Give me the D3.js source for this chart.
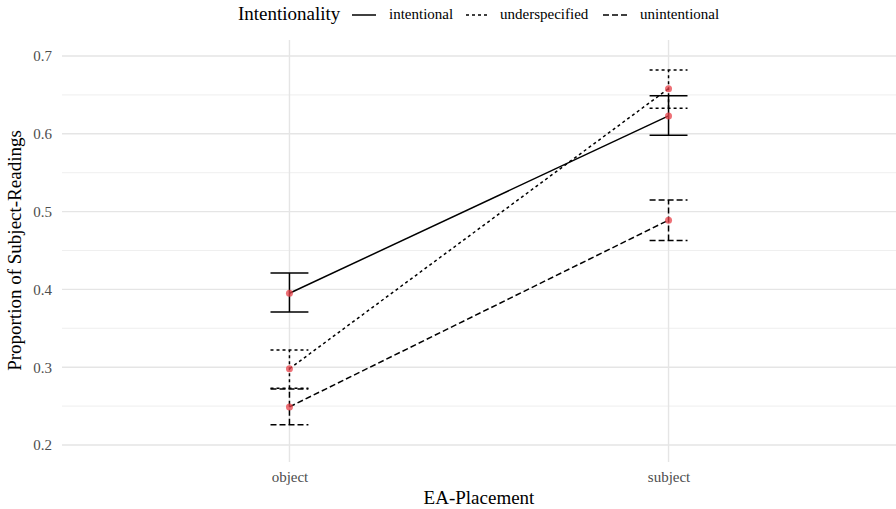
<!DOCTYPE html>
<html><head><meta charset="utf-8">
<script src="https://cdn.jsdelivr.net/npm/d3@7"></script>
<style>body{margin:0;background:#fff}svg{display:block}</style>
</head><body>
<script>
const categories = ["object", "subject"];
const seriesNames = ["intentional", "underspecified", "unintentional"];
const means = {
  intentional:   [0.395, 0.623],
  underspecified:[0.298, 0.658],
  unintentional: [0.249, 0.489]
};
const lower = {
  intentional:   [0.371, 0.598],
  underspecified:[0.273, 0.633],
  unintentional: [0.226, 0.463]
};
const upper = {
  intentional:   [0.421, 0.649],
  underspecified:[0.322, 0.682],
  unintentional: [0.272, 0.515]
};
const yTicks = [0.2, 0.3, 0.4, 0.5, 0.6, 0.7];
const yMinor = [0.25, 0.35, 0.45, 0.55, 0.65];
const dashes = {intentional: null, underspecified: "3,3", unintentional: "6,3"};

const W = 896, H = 509;
const m = {left: 62, right: 896, top: 40, bottom: 462};
const svg = d3.select("body").append("svg").attr("width", W).attr("height", H);
const font = "Liberation Serif, Times New Roman, serif";

const x = d3.scalePoint().domain(categories).range([m.left, m.right]).padding(0.6);
const y = d3.scaleLinear().domain([0.2, 0.7]).range([445, 56]);

// gridlines
const g = svg.append("g");
g.selectAll(".minor").data(yMinor).enter().append("line")
  .attr("x1", m.left).attr("x2", m.right).attr("y1", d => y(d)).attr("y2", d => y(d))
  .attr("stroke", "#ebebeb").attr("stroke-width", 0.8);
g.selectAll(".major").data(yTicks).enter().append("line")
  .attr("x1", m.left).attr("x2", m.right).attr("y1", d => y(d)).attr("y2", d => y(d))
  .attr("stroke", "#e5e5e5").attr("stroke-width", 1.4);
g.selectAll(".vmajor").data(categories).enter().append("line")
  .attr("x1", d => x(d)).attr("x2", d => x(d)).attr("y1", m.top).attr("y2", m.bottom)
  .attr("stroke", "#e5e5e5").attr("stroke-width", 1.4);

// axes (text only)
const yAxis = d3.axisLeft(y).tickValues(yTicks).tickSize(0).tickPadding(10).tickFormat(d3.format(".1f"));
const ya = svg.append("g").attr("transform", `translate(${m.left},0)`).call(yAxis);
ya.select(".domain").remove();
ya.selectAll("text").attr("font-family", font).attr("font-size", 15).attr("fill", "#4d4d4d");

const xAxis = d3.axisBottom(x).tickSize(0).tickPadding(9);
const xa = svg.append("g").attr("transform", `translate(0,${m.bottom})`).call(xAxis);
xa.select(".domain").remove();
xa.selectAll("text").attr("font-family", font).attr("font-size", 15).attr("fill", "#4d4d4d");

// axis titles
svg.append("text").attr("x", (m.left + m.right) / 2).attr("y", 504)
  .attr("text-anchor", "middle").attr("font-family", font).attr("font-size", 19).attr("fill", "#000")
  .text("EA-Placement");
svg.append("text").attr("transform", `translate(21,${(56 + 445) / 2}) rotate(-90)`)
  .attr("text-anchor", "middle").attr("font-family", font).attr("font-size", 19).attr("fill", "#000")
  .text("Proportion of Subject-Readings");

// data
const step = x.step();
const bw = step * 0.1 / 2;
const plot = svg.append("g");
seriesNames.forEach(s => {
  const pts = categories.map((c, i) => ({c, v: means[s][i], lo: lower[s][i], hi: upper[s][i]}));
  const line = d3.line().x(d => x(d.c)).y(d => y(d.v));
  const style = sel => {
    sel.attr("stroke", "#000").attr("stroke-width", 1.5).attr("fill", "none");
    if (dashes[s]) sel.attr("stroke-dasharray", dashes[s]);
    return sel;
  };
  pts.forEach(d => {
    style(plot.append("path").attr("d", `M${x(d.c)},${y(d.lo)}V${y(d.hi)}`));
    style(plot.append("path").attr("d", `M${x(d.c) - bw},${y(d.lo)}H${x(d.c) + bw}`));
    style(plot.append("path").attr("d", `M${x(d.c) - bw},${y(d.hi)}H${x(d.c) + bw}`));
  });
  style(plot.append("path").datum(pts).attr("d", line));
});
seriesNames.forEach(s => {
  plot.selectAll(null).data(categories.map((c, i) => ({c, v: means[s][i]}))).enter().append("circle")
    .attr("cx", d => x(d.c)).attr("cy", d => y(d.v)).attr("r", 3.5)
    .attr("fill", "#e8424a").attr("fill-opacity", 0.75);
});

// legend
const lg = svg.append("g");
lg.append("text").attr("x", 238).attr("y", 20).attr("font-family", font).attr("font-size", 19).text("Intentionality");
const legendItems = [
  {s: "intentional", lx: 352, tx: 389},
  {s: "underspecified", lx: 466, tx: 500},
  {s: "unintentional", lx: 603, tx: 640}
];
legendItems.forEach(it => {
  const p = lg.append("path").attr("d", `M${it.lx},15H${it.lx + 24}`).attr("stroke", "#000").attr("stroke-width", 1.5);
  if (dashes[it.s]) p.attr("stroke-dasharray", dashes[it.s]);
  lg.append("text").attr("x", it.tx).attr("y", 19).attr("font-family", font).attr("font-size", 15).text(it.s);
});
</script>
</body></html>
